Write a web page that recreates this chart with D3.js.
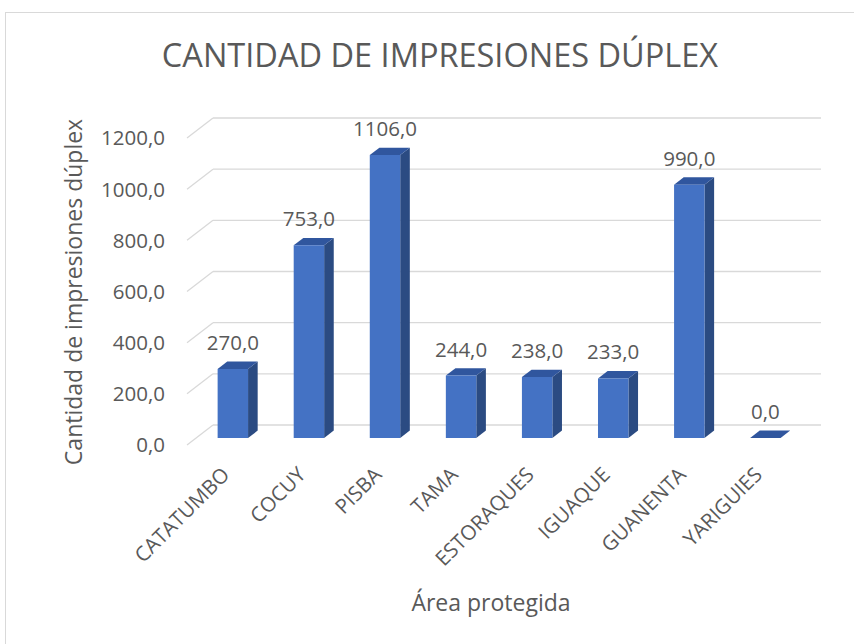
<!DOCTYPE html>
<html>
<head>
<meta charset="utf-8">
<script src="https://cdn.jsdelivr.net/npm/d3@7"></script>
<style>
  body { margin: 0; background: #fff; }
  text { font-family: "Open Sans", sans-serif; fill: #595959; }
</style>
</head>
<body>
<div id="chart"></div>
<script>
// data
var categories = ["CATATUMBO", "COCUY", "PISBA", "TAMA", "ESTORAQUES", "IGUAQUE", "GUANENTA", "YARIGUIES"];
var values = [270, 753, 1106, 244, 238, 233, 990, 0];
var yTicks = [0, 200, 400, 600, 800, 1000, 1200];
var chartTitle = "CANTIDAD DE IMPRESIONES DÚPLEX";
var xTitle = "Área protegida";
var yTitle = "Cantidad de impresiones dúplex";

var W = 854, H = 644;
var svg = d3.select("#chart").append("svg").attr("width", W).attr("height", H);

// outer border of the chart area
svg.append("rect")
  .attr("x", 5.5).attr("y", 12.5)
  .attr("width", 900).attr("height", 700)
  .attr("fill", "none").attr("stroke", "#d9d9d9");

var fmt = d3.formatLocale({decimal: ",", thousands: "", grouping: [3], currency: ["", ""]}).format(".1f");

// back wall scales
var x = d3.scaleBand()
  .domain(categories)
  .range([213, 819])
  .paddingInner(0.6)
  .paddingOuter(0.283);

var y = d3.scaleLinear()
  .domain([0, 1200])
  .range([425, 118]);

// depth: offset from back wall (t=0) to front edge (t=1)
var DEPTH = [-26, 20];
var T_FRONT = 0.65, T_BACK = 0.28;
function P(xb, v, t) { return [xb + t * DEPTH[0], y(v) + t * DEPTH[1]]; }

// gridlines on the back wall + left side wall
var grid = svg.append("g").attr("class", "grid")
  .attr("stroke", "#d9d9d9").attr("stroke-width", 1.3).attr("fill", "none");

grid.selectAll(".h").data(yTicks).enter().append("line")
  .attr("x1", 213).attr("x2", 821)
  .attr("y1", function(d) { return y(d); })
  .attr("y2", function(d) { return y(d); });

grid.selectAll(".d").data(yTicks).enter().append("line")
  .attr("x1", 213).attr("y1", function(d) { return y(d); })
  .attr("x2", function(d) { return P(213, d, 1)[0]; })
  .attr("y2", function(d) { return P(213, d, 1)[1]; });

// y tick labels
svg.append("g").selectAll("text").data(yTicks).enter().append("text")
  .attr("x", 165)
  .attr("y", function(d) { return P(213, d, 1)[1]; })
  .attr("dy", "0.36em")
  .attr("text-anchor", "end")
  .style("font-size", "20.5px")
  .text(function(d) { return fmt(d); });

// bars
var bw = x.bandwidth();
var aData = categories.map(function(c, i) { return {key: c, val: values[i]}; });

var bars = svg.append("g").selectAll(".bar").data(aData).enter().append("g")
  .attr("class", "bar");

function poly(pts) { return "M" + pts.map(function(p) { return p.join(","); }).join("L") + "Z"; }

bars.append("path")
  .attr("fill", "#2b4b82")
  .attr("d", function(d) {
    var x1 = x(d.key) + bw;
    return poly([P(x1, 0, T_FRONT), P(x1, d.val, T_FRONT), P(x1, d.val, T_BACK), P(x1, 0, T_BACK)]);
  });

bars.append("path")
  .attr("fill", "#30569e")
  .attr("d", function(d) {
    var x0 = x(d.key), x1 = x0 + bw;
    return poly([P(x0, d.val, T_FRONT), P(x1, d.val, T_FRONT), P(x1, d.val, T_BACK), P(x0, d.val, T_BACK)]);
  });

bars.append("path")
  .attr("fill", "#4472c4")
  .attr("d", function(d) {
    var x0 = x(d.key), x1 = x0 + bw;
    return poly([P(x0, 0, T_FRONT), P(x1, 0, T_FRONT), P(x1, d.val, T_FRONT), P(x0, d.val, T_FRONT)]);
  });

// value labels
bars.append("text")
  .attr("x", function(d) { return P(x(d.key) + bw / 2, d.val, T_FRONT)[0]; })
  .attr("y", function(d) { return P(x(d.key) + bw / 2, d.val, T_FRONT)[1] - 19; })
  .attr("text-anchor", "middle")
  .style("font-size", "20.5px")
  .text(function(d) { return fmt(d.val); });

// category labels
svg.append("g").selectAll("text").data(categories).enter().append("text")
  .attr("transform", function(d) {
    var p = P(x(d) + bw / 2, 0, T_FRONT);
    return "translate(" + (p[0] - 2) + ",476) rotate(-45)";
  })
  .attr("text-anchor", "end")
  .style("font-size", "20.5px")
  .text(function(d) { return d; });

// titles
svg.append("text")
  .attr("x", 440).attr("y", 67)
  .attr("text-anchor", "middle")
  .style("font-size", "32.5px")
  .text(chartTitle);

svg.append("text")
  .attr("x", 491).attr("y", 611)
  .attr("text-anchor", "middle")
  .style("font-size", "23px")
  .text(xTitle);

svg.append("text")
  .attr("transform", "translate(82,292) rotate(-90)")
  .attr("text-anchor", "middle")
  .style("font-size", "23px")
  .text(yTitle);
</script>
</body>
</html>
